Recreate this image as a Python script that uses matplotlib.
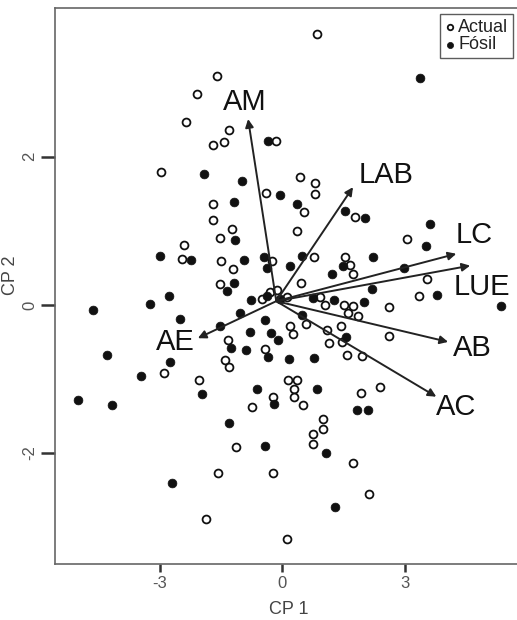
import matplotlib
matplotlib.use("Agg")
import matplotlib.pyplot as plt

plt.rcParams['font.family'] = ['Liberation Sans', 'DejaVu Sans']
plt.rcParams['axes.unicode_minus'] = False

# PCA scores - Actual (open circles)
actual_x = [-1.61, -2.08, -2.36, -1.30, -1.42, -1.71, -2.98, -1.69, -1.71, -1.24,
            -1.54, -2.41, -2.46, -1.50, -1.20, -1.54, -0.15, -0.39, 0.37,
            -0.26, 0.45, 0.86, 0.43, 0.81, 0.79, 0.53, 1.77, 3.06, 0.78, 1.53,
            1.65, 1.72, 3.55, 3.35, 2.60, -0.50, -0.30, -0.13, 0.12, 0.92,
            1.05, 1.51, 1.73, 1.61, 1.86, 0.58, 1.09, 1.43, 1.14, 1.47,
            2.61, 1.58, 1.96, 0.19, 0.25, -1.32, -1.40, -1.30, -2.90, -2.05,
            -0.74, -0.42, 0.15, 0.35, 0.29, 0.28, -0.22, 0.50, 1.92, 2.38,
            0.99, 0.99, 0.75, 0.76, 1.72, 2.12, -0.22, -1.14, -1.57, -1.86, 0.12]
actual_y = [3.09, 2.85, 2.47, 2.36, 2.20, 2.16, 1.79, 1.36, 1.14, 1.03,
            0.91, 0.81, 0.62, 0.59, 0.48, 0.28, 2.22, 1.51, 1.00,
            0.59, 0.29, 3.66, 1.73, 1.65, 1.50, 1.26, 1.19, 0.89, 0.64, 0.64,
            0.54, 0.42, 0.35, 0.12, -0.03, 0.08, 0.18, 0.20, 0.11, 0.11,
            0.00, 0.00, -0.01, -0.11, -0.15, -0.26, -0.34, -0.29, -0.52, -0.50,
            -0.42, -0.68, -0.69, -0.29, -0.40, -0.48, -0.74, -0.84, -0.92, -1.01,
            -1.38, -0.59, -1.02, -1.01, -1.13, -1.24, -1.24, -1.35, -1.19, -1.11,
            -1.54, -1.67, -1.75, -1.88, -2.14, -2.55, -2.27, -1.92, -2.27, -2.89, -3.16]

# PCA scores - Fosil (filled circles)
fosil_x = [-1.91, -0.99, -1.18, -1.15, -2.99, -2.24, -0.94, -1.18, -1.36, -2.77,
           -0.77, -3.24, -4.63, 3.36, -0.35, -0.05, 0.36, 1.54, 2.03, 3.61,
           3.51, 0.49, 2.22, 1.48, -0.45, -0.38, 0.18, 1.22, 2.99, 2.19,
           3.79, 5.36, -0.38, -0.06, 0.75, 1.26, 2.01, -2.52, -1.05, -1.53,
           -0.43, -0.79, -0.28, -0.11, -1.26, -0.89, -0.36, 0.17, -2.75, -4.30,
           -3.46, -5.01, -4.17, -1.96, -0.61, -1.31, -2.70, 0.47, 0.78, 1.56,
           0.84, -0.21, 1.84, 2.09, -0.43, 1.06, 1.29]
fosil_y = [1.77, 1.68, 1.39, 0.88, 0.66, 0.61, 0.60, 0.29, 0.19, 0.12,
           0.07, 0.01, -0.07, 3.06, 2.21, 1.48, 1.36, 1.27, 1.18, 1.09,
           0.80, 0.66, 0.64, 0.53, 0.65, 0.50, 0.52, 0.42, 0.50, 0.21,
           0.14, -0.02, 0.12, 0.08, 0.09, 0.07, 0.04, -0.19, -0.11, -0.29,
           -0.20, -0.36, -0.38, -0.47, -0.58, -0.61, -0.71, -0.73, -0.77, -0.68,
           -0.96, -1.28, -1.35, -1.21, -1.13, -1.59, -2.41, -0.14, -0.72, -0.43,
           -1.14, -1.34, -1.42, -1.42, -1.91, -2.00, -2.73]

# variable loadings (arrows)
var_names = ['AM', 'LAB', 'LC', 'LUE', 'AE', 'AB', 'AC']
load_x = [-0.84, 1.73, 4.26, 4.60, -2.07, 4.06, 3.77]
load_y = [2.51, 1.59, 0.69, 0.53, -0.45, -0.50, -1.24]
label_x = [-0.92, 2.54, 4.69, 4.89, -2.61, 4.65, 4.26]
label_y = [2.74, 1.76, 0.95, 0.24, -0.50, -0.58, -1.38]
origin = (-0.15, 0.05)

fig = plt.figure(figsize=(5.17, 6.20), dpi=100)
ax = fig.add_axes([55 / 517, 56 / 620, 467 / 517, 556 / 620])

ax.scatter(actual_x, actual_y, s=32, facecolors='white', edgecolors='#111111',
           linewidths=1.3, label='Actual', zorder=3)
ax.scatter(fosil_x, fosil_y, s=40, color='#111111', edgecolors='#111111',
           linewidths=0.5, label='Fósil', zorder=3)

for name, lx, ly, tx, ty in zip(var_names, load_x, load_y, label_x, label_y):
    ax.annotate('', xy=(lx, ly), xytext=origin,
                arrowprops=dict(arrowstyle='-|>', color='#222222', lw=1.4,
                                mutation_scale=12, shrinkA=0, shrinkB=0),
                zorder=4)
    ax.text(tx, ty, name, fontsize=21, ha='center', va='center',
            color='#111111', zorder=5)

ax.set_xlim(-5.57, 5.87)
ax.set_ylim(-3.50, 4.01)
ax.set_xticks([-3, 0, 3])
ax.set_yticks([-2, 0, 2])
ax.tick_params(axis='x', direction='out', length=6, width=1.8, colors='#333333',
               labelsize=12, labelcolor='#555555', pad=3)
ax.tick_params(axis='y', direction='out', length=10, width=1.8, colors='#333333',
               labelsize=12, labelcolor='#555555', pad=3)
for lab in ax.get_yticklabels():
    lab.set_rotation(90)
    lab.set_va('center')

for sp in ax.spines.values():
    sp.set_color('#666666')
    sp.set_linewidth(1.2)

ax.set_xlabel('CP 1', fontsize=13, color='#444444', labelpad=7)
ax.set_ylabel('CP 2', fontsize=13, color='#444444', labelpad=2)
ax.yaxis.set_label_coords(-0.078, 0.52)

leg = ax.legend(loc='upper left', bbox_to_anchor=(440 / 517, 1 - 14 / 620),
                bbox_transform=fig.transFigure, fontsize=13, frameon=True,
                fancybox=False, edgecolor='#333333', handletextpad=0.15,
                handlelength=0.6, borderpad=0.25, labelspacing=0.05,
                borderaxespad=0, markerscale=0.7, handleheight=0.6)
leg.get_frame().set_linewidth(1.0)
for t in leg.get_texts():
    t.set_color('#222222')

fig.savefig('out.png', dpi=100)
